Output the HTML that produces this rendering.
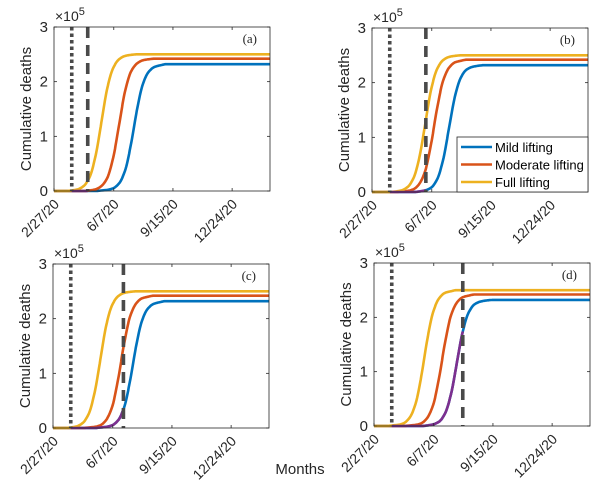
<!DOCTYPE html>
<html><head><meta charset="utf-8"><style>
html,body{margin:0;padding:0;background:#fff;width:601px;height:487px;overflow:hidden}
svg{display:block;font-family:"Liberation Sans",sans-serif}
</style></head><body>
<svg id="fig" width="601" height="487" viewBox="0 0 601 487" xmlns="http://www.w3.org/2000/svg">
<text x="300" y="474" font-size="15" text-anchor="middle" fill="#262626">Months</text>
</svg>
<script>
const days = [0,10,20,30,40,50,60,70,80,90,100,110,120,130,140,150,160,170,180,190,200,365];
const tickDays = [0,101,201,301];
const tickLabels = ["2/27/20","6/7/20","9/15/20","12/24/20"];
const yTicks = [0,1,2,3];
const yellow80 = [0,0,0,0.01,0.03,0.09,0.25,0.63,1.25,1.88,2.25,2.41,2.47,2.49,2.5,2.5,2.5,2.5,2.5,2.5,2.5,2.5];
const yellow85 = [0,0,0,0.01,0.02,0.05,0.15,0.40,0.92,1.59,2.10,2.35,2.45,2.48,2.5,2.5,2.5,2.5,2.5,2.5,2.5,2.5];
const yellow90 = [0,0,0,0,0.01,0.03,0.09,0.25,0.63,1.25,1.88,2.25,2.41,2.47,2.49,2.5,2.5,2.5,2.5,2.5,2.5,2.5];
const orange110 = [0,0,0,0,0,0,0.01,0.03,0.09,0.24,0.61,1.21,1.82,2.18,2.33,2.39,2.41,2.42,2.42,2.42,2.42,2.42];
const orange105 = [0,0,0,0,0,0.01,0.02,0.05,0.15,0.39,0.89,1.53,2.03,2.27,2.37,2.40,2.42,2.42,2.42,2.42,2.42,2.42];
const orange115 = [0,0,0,0,0,0,0.01,0.02,0.05,0.15,0.39,0.89,1.53,2.03,2.27,2.37,2.40,2.42,2.42,2.42,2.42,2.42];
const blue130 = [0,0,0,0,0,0,0,0,0.01,0.03,0.08,0.23,0.58,1.16,1.74,2.09,2.24,2.29,2.31,2.32,2.32,2.32];
const blue135 = [0,0,0,0,0,0,0,0,0.01,0.02,0.05,0.14,0.37,0.85,1.47,1.95,2.18,2.27,2.30,2.32,2.32,2.32];
const blue140 = [0,0,0,0,0,0,0,0,0,0.01,0.03,0.08,0.23,0.58,1.16,1.74,2.09,2.24,2.29,2.31,2.32,2.32];
const dottedDay = 30;
const dashedDays = [57,91,119,150];
const panelLetters = ["(a)","(b)","(c)","(d)"];
const panelYellow = [yellow80,yellow90,yellow80,yellow85];
const panelOrange = [orange110,orange105,orange115,orange115];
const panelBlue = [blue135,blue130,blue135,blue140];
const legendLabels = ["Mild lifting","Moderate lifting","Full lifting"];

const C = {blue:"#0072BD",orange:"#D95319",yellow:"#EDB120",purple:"#7E2F8E"};
const boxes = [{l:54,t:27,r:270,b:191},{l:372,t:28,r:588,b:192},{l:53,t:264,r:269,b:428},{l:374,t:263,r:590,b:426}];
const svg = document.getElementById('fig');
const NS = "http://www.w3.org/2000/svg";
function mk(tag, attrs, parent){const e=document.createElementNS(NS,tag);for(const k in attrs)e.setAttribute(k,attrs[k]);(parent||svg).appendChild(e);return e;}

function interp(vals, d){
  const n=days.length;
  if(d<=days[0])return vals[0]; if(d>=days[n-1])return vals[n-1];
  let i=0; while(days[i+1]<d)i++;
  const h=days[i+1]-days[i];
  const sl=k=>(vals[k+1]-vals[k])/(days[k+1]-days[k]);
  const tan=k=>{ if(k===0)return sl(0); if(k===n-1)return sl(n-2);
    const a=sl(k-1),b=sl(k); if(a*b<=0)return 0; return 2/(1/a+1/b);};
  const m0=tan(i),m1=tan(i+1),t=(d-days[i])/h;
  const h00=2*t*t*t-3*t*t+1,h10=t*t*t-2*t*t+t,h01=-2*t*t*t+3*t*t,h11=t*t*t-t*t;
  return h00*vals[i]+h10*h*m0+h01*vals[i+1]+h11*h*m1;
}

boxes.forEach((B,p)=>{
  const g = mk('g',{});
  
  
  const xs = d => B.l + d/365*(B.r-B.l);
  const ys = v => B.b - v/3*(B.b-B.t);
  mk('rect',{x:B.l,y:B.t,width:B.r-B.l,height:B.b-B.t,fill:"#fff"},g);
  function curve(vals,col,d0,d1,name){
    let pts=[];
    for(let d=d0; d<=d1; d+=1) pts.push(xs(d).toFixed(1)+","+ys(interp(vals,d)).toFixed(1));
    pts.push(xs(d1).toFixed(1)+","+ys(interp(vals,d1)).toFixed(1));
    const e=mk('polyline',{points:pts.join(" "),fill:"none",stroke:col,"stroke-width":2.6,"stroke-linejoin":"round"},g);
    
    
  }
  curve(panelBlue[p],C.blue,0,365,'mild-lifting-line');
  curve(panelOrange[p],C.orange,0,365,'moderate-lifting-line');
  curve(panelYellow[p],C.yellow,0,365,'full-lifting-line');
  curve(panelBlue[p],C.purple,dottedDay,dashedDays[p],'baseline-line');
  const dt=mk('line',{x1:xs(dottedDay),x2:xs(dottedDay),y1:B.t,y2:B.b,stroke:"#4a4a4a","stroke-width":3.6,"stroke-dasharray":"3.5,3"},g);
  
  
  const ds=mk('line',{x1:xs(dashedDays[p]),x2:xs(dashedDays[p]),y1:B.t,y2:B.b,stroke:"#4a4a4a","stroke-width":3.6,"stroke-dasharray":"11,7"},g);
  
  
  mk('rect',{x:B.l,y:B.t,width:B.r-B.l,height:B.b-B.t,fill:"none",stroke:"#262626","stroke-width":0.8},g);
  yTicks.forEach(v=>{
    mk('line',{x1:B.l,x2:B.l+3,y1:ys(v),y2:ys(v),stroke:"#262626","stroke-width":0.8},g);
    mk('line',{x1:B.r,x2:B.r-3,y1:ys(v),y2:ys(v),stroke:"#262626","stroke-width":0.8},g);
    const t=mk('text',{x:B.l-6,y:ys(v)+5,"font-size":15,"text-anchor":"end",fill:"#262626"},g);
    t.textContent=v;
    
    
  });
  tickDays.forEach((d,i)=>{
    mk('line',{x1:xs(d),x2:xs(d),y1:B.b,y2:B.b-3,stroke:"#262626","stroke-width":0.8},g);
    mk('line',{x1:xs(d),x2:xs(d),y1:B.t,y2:B.t+3,stroke:"#262626","stroke-width":0.8},g);
    const t=mk('text',{x:0,y:0,"font-size":14,"text-anchor":"end",fill:"#262626",transform:`translate(${xs(d)+6},${B.b+14}) rotate(-45)`},g);
    t.textContent=tickLabels[i];
    
    
  });
  const ex=mk('text',{x:B.l+1,y:B.t-6,"font-size":14,fill:"#262626"},g);
  ex.innerHTML='×10<tspan dy="-6" font-size="11">5</tspan>';
  
  
  const yl=mk('text',{x:0,y:0,"font-size":15,"text-anchor":"middle",fill:"#262626",transform:`translate(${B.l-23},${(B.t+B.b)/2}) rotate(-90)`},g);
  yl.textContent="Cumulative deaths";
  
  
  const pl=mk('text',{x:B.r-13,y:B.t+16,"font-size":13,"text-anchor":"end",fill:"#262626","font-family":"Liberation Serif, serif"},g);
  pl.textContent=panelLetters[p];
  
  
  if(p===1){
    const lg=mk('g',{},g);
    
    
    mk('rect',{x:457,y:137,width:131,height:55,fill:"#fff",stroke:"#262626","stroke-width":0.8},lg);
    [C.blue,C.orange,C.yellow].forEach((col,i)=>{
      const yy=147+i*17.5;
      mk('line',{x1:461,x2:492,y1:yy,y2:yy,stroke:col,"stroke-width":2.6},lg);
      const t=mk('text',{x:495,y:yy+5,"font-size":13,fill:"#000"},lg);
      t.textContent=legendLabels[i];
      
      
    });
  }
});
</script>
</body></html>
